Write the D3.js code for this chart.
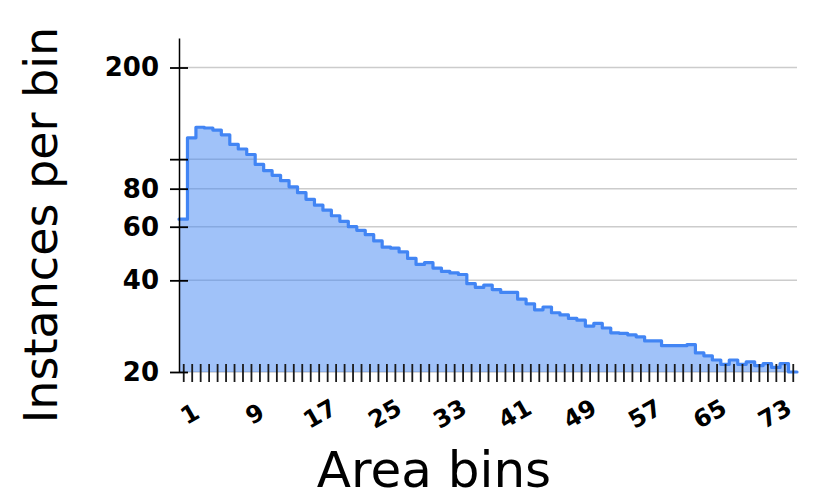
<!DOCTYPE html>
<html>
<head>
<meta charset="utf-8">
<script src="https://cdn.jsdelivr.net/npm/d3@7"></script>
<style>
  html, body { margin: 0; padding: 0; background: #fff; }
  svg { display: block; }
</style>
</head>
<body>
<svg id="chart" width="830" height="496"></svg>
<script>
// ---- data ----
const bins = [1,2,3,4,5,6,7,8,9,10,11,12,13,14,15,16,17,18,19,20,21,22,23,24,25,26,27,28,29,30,
  31,32,33,34,35,36,37,38,39,40,41,42,43,44,45,46,47,48,49,50,51,52,53,54,55,56,57,58,59,60,
  61,62,63,64,65,66,67,68,69,70,71,72,73];
const instances = [63.5,117.5,127.3,126.6,124.6,120.2,111.8,108.0,103.6,96.1,
  91.7,88.5,85.0,81.1,77.6,73.8,70.6,68.0,65.2,62.5,
  60.0,58.4,56.5,53.9,51.4,51.0,49.6,47.2,45.1,45.7,
  43.9,42.8,42.3,41.8,39.0,37.9,38.6,37.3,36.5,36.5,
  34.7,33.5,32.0,32.7,31.3,30.8,30.0,29.6,28.3,28.9,
  27.9,26.9,26.8,26.5,26.1,25.3,25.3,24.4,24.4,24.4,
  24.6,23.1,22.6,21.9,21.2,21.9,21.2,21.6,21.0,21.3,
  20.7,21.3,19.0];
const xTickLabels = [1,9,17,25,33,41,49,57,65,73];
const yTickValues = [20,40,60,80,100,200];
const yTickLabels = ["20","40","60","80","","200"];
const xTitle = "Area bins";
const yTitle = "Instances per bin";

// ---- layout ----
const svg = d3.select("#chart");
const plotLeft = 179, plotRight = 797, plotTop = 38, plotBottom = 372;

const x = d3.scaleLinear().domain([0.5, 73.5]).range([plotLeft, plotRight]);
const y = d3.scaleLog().domain([20, 250]).range([plotBottom, plotTop]).clamp(true);
const xLab = d3.scaleLinear().domain([1, 73]).range([194, 779]);

// gridlines
svg.append("g")
  .selectAll("line")
  .data(yTickValues)
  .join("line")
  .attr("x1", plotLeft).attr("x2", plotRight)
  .attr("y1", d => y(d)).attr("y2", d => y(d))
  .attr("stroke", "#cccccc")
  .attr("stroke-width", 1.5);

// step data with half-bin extension on both ends
const pts = bins.map((b, i) => ({ b: b, v: instances[i] }));
const stepPts = [{ b: bins[0] - 0.5, v: instances[0] }, ...pts,
                 { b: bins[bins.length - 1] + 0.5, v: instances[instances.length - 1] }];

const area = d3.area()
  .curve(d3.curveStep)
  .x(d => x(d.b))
  .y0(y(20))
  .y1(d => y(d.v));
const line = d3.line()
  .curve(d3.curveStep)
  .x(d => x(d.b))
  .y(d => y(d.v));

svg.append("path")
  .datum(stepPts)
  .attr("d", area)
  .attr("fill", "#4285f4")
  .attr("fill-opacity", 0.5);

svg.append("path")
  .datum(stepPts)
  .attr("d", line)
  .attr("fill", "none")
  .attr("stroke", "#4285f4")
  .attr("stroke-width", 3.2)
  .attr("stroke-linejoin", "round")
  .attr("stroke-linecap", "round");

// x axis ticks
const xAxis = svg.append("g")
  .attr("transform", `translate(0,${plotBottom})`)
  .call(d3.axisBottom(x).tickValues(bins).tickSize(9).tickSizeOuter(0).tickFormat(""));
xAxis.select(".domain").remove();
xAxis.selectAll(".tick line")
  .attr("y1", -8).attr("y2", 10)
  .attr("stroke", "#1a1a1a").attr("stroke-width", 1.8);

// x tick labels (rotated)
svg.append("g")
  .selectAll("text")
  .data(xTickLabels)
  .join("text")
  .attr("transform", d => `translate(${xLab(d)},421) rotate(-30)`)
  .attr("text-anchor", "middle")
  .attr("font-family", "DejaVu Sans, sans-serif")
  .attr("font-weight", "bold")
  .attr("font-size", 24)
  .attr("fill", "#000")
  .text(d => d);

// y axis
const yAxis = svg.append("g")
  .attr("transform", `translate(${plotLeft},0)`)
  .call(d3.axisLeft(y).tickValues(yTickValues).tickSize(9).tickSizeOuter(0).tickPadding(11)
        .tickFormat((d, i) => yTickLabels[i]));
yAxis.select(".domain")
  .attr("stroke", "#000").attr("stroke-width", 1.5);
yAxis.selectAll(".tick line")
  .attr("x1", 9)
  .attr("stroke", "#000").attr("stroke-width", 1.8);
yAxis.selectAll(".tick text")
  .attr("font-family", "DejaVu Sans, sans-serif")
  .attr("font-weight", "bold")
  .attr("font-size", 26)
  .attr("fill", "#000");

// axis titles
svg.append("text")
  .attr("x", 434).attr("y", 487)
  .attr("text-anchor", "middle")
  .attr("font-family", "DejaVu Sans, sans-serif")
  .attr("font-size", 50)
  .attr("fill", "#000")
  .text(xTitle);

svg.append("text")
  .attr("transform", "translate(57,225) rotate(-90)")
  .attr("text-anchor", "middle")
  .attr("font-family", "DejaVu Sans, sans-serif")
  .attr("font-size", 46)
  .attr("fill", "#000")
  .text(yTitle);
</script>
</body>
</html>
